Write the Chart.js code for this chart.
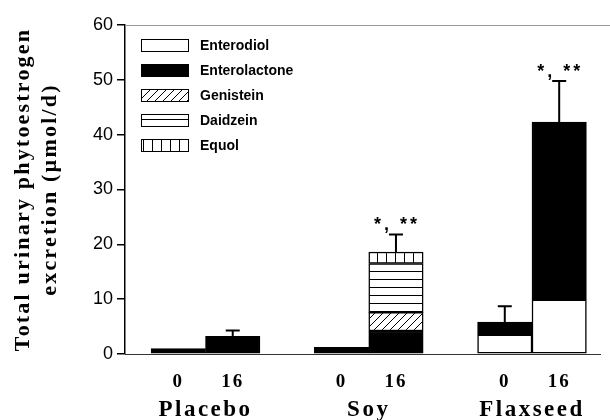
<!DOCTYPE html>
<html>
<head>
<meta charset="utf-8">
<script src="https://cdn.jsdelivr.net/npm/chart.js@4.4.1/dist/chart.umd.min.js"></script>
<style>
  html, body { margin: 0; padding: 0; background: #fff; }
  #wrap { width: 610px; height: 420px; }
</style>
</head>
<body>
<div id="wrap"><canvas id="myChart" width="610" height="420"></canvas></div>
<script>
const groups = ['Placebo', 'Soy', 'Flaxseed'];
const weeks = ['0', '16'];
// one entry per bar: placebo 0, placebo 16, soy 0, soy 16, flaxseed 0, flaxseed 16
const enterodiol    = [null, null, null, null, 3.5, 9.9];
const enterolactone = [1.0, 3.2, 1.2, 4.2, 2.3, 32.4];
const genistein     = [null, null, null, 3.4, null, null];
const daidzein      = [null, null, null, 8.9, null, null];
const equol         = [null, null, null, 2.1, null, null];
const errorTop      = [null, 4.3, null, 21.8, 8.7, 49.8];
const signif        = [null, null, null, '*, **', null, '*, **'];
const yTicks = [0, 10, 20, 30, 40, 50, 60];

// bars sit in slots, one empty slot between groups
const barX = i => Math.floor(i / 2) * 3 + (i % 2);

function makePattern(kind) {
  const c = document.createElement('canvas');
  const s = kind === 'vert' ? 9 : 8;
  c.width = s; c.height = s;
  const g = c.getContext('2d');
  g.fillStyle = '#fff';
  g.fillRect(0, 0, s, s);
  g.strokeStyle = '#000';
  g.lineWidth = 1;
  g.beginPath();
  if (kind === 'diag') {
    g.moveTo(0, s); g.lineTo(s, 0);
    g.moveTo(-1, 1); g.lineTo(1, -1);
    g.moveTo(s - 1, s + 1); g.lineTo(s + 1, s - 1);
  } else if (kind === 'horiz') {
    g.moveTo(0, s - 0.5); g.lineTo(s, s - 0.5);
  } else if (kind === 'vert') {
    g.moveTo(s - 0.5, 0); g.lineTo(s - 0.5, s);
  }
  g.stroke();
  return g.createPattern(c, 'repeat');
}

const series = [
  { label: 'Enterodiol', values: enterodiol, fill: '#fff' },
  { label: 'Enterolactone', values: enterolactone, fill: '#000' },
  { label: 'Genistein', values: genistein, fill: makePattern('diag') },
  { label: 'Daidzein', values: daidzein, fill: makePattern('horiz') },
  { label: 'Equol', values: equol, fill: makePattern('vert') },
];

// the scanned labels are wide, so add letter spacing to some of a scale's text
function spaceText(scale, gap, fns) {
  if (scale._spaced) return;
  scale._spaced = true;
  fns.forEach(fn => {
    const orig = scale[fn];
    scale[fn] = function (...args) {
      this.ctx.save();
      this.ctx.letterSpacing = gap;
      orig.apply(this, args);
      this.ctx.restore();
    };
  });
}

const extras = {
  id: 'extras',
  afterDatasetsDraw(chart) {
    const { ctx, chartArea, scales } = chart;
    const x = scales.x, y = scales.y;
    ctx.save();
    // faint frame line on top
    ctx.strokeStyle = '#999';
    ctx.lineWidth = 1;
    ctx.beginPath();
    ctx.moveTo(chartArea.left, chartArea.top + 0.5);
    ctx.lineTo(chartArea.right + 10, chartArea.top + 0.5);
    ctx.stroke();

    // error bars and significance marks
    errorTop.forEach((e, i) => {
      if (e == null) return;
      const total = series.reduce((a, s) => a + (s.values[i] || 0), 0);
      const px = x.getPixelForValue(barX(i));
      const yb = y.getPixelForValue(total);
      const ye = y.getPixelForValue(e);
      ctx.strokeStyle = '#000';
      ctx.lineWidth = 2;
      ctx.beginPath();
      ctx.moveTo(px, yb); ctx.lineTo(px, ye);
      ctx.moveTo(px - 7, ye); ctx.lineTo(px + 7, ye);
      ctx.stroke();
      if (signif[i]) {
        ctx.fillStyle = '#000';
        ctx.font = 'bold 18px "Liberation Sans", Arial, sans-serif';
        ctx.letterSpacing = '3px';
        ctx.textAlign = 'center';
        ctx.textBaseline = 'alphabetic';
        ctx.fillText(signif[i], px + 1, ye - 4);
        ctx.letterSpacing = '0px';
      }
    });

    // legend inside the plot, top left
    const lx = chartArea.left + 16, ly = chartArea.top + 14;
    series.forEach((s, i) => {
      const top = ly + i * 25;
      ctx.fillStyle = s.fill;
      ctx.fillRect(lx, top, 47, 12);
      ctx.strokeStyle = '#000';
      ctx.lineWidth = 1;
      ctx.strokeRect(lx + 0.5, top + 0.5, 47, 12);
      ctx.fillStyle = '#000';
      ctx.font = 'bold 14px "Liberation Sans", Arial, sans-serif';
      ctx.textAlign = 'left';
      ctx.textBaseline = 'middle';
      ctx.fillText(s.label, lx + 59, top + 7);
    });
    ctx.restore();
  }
};

const xMin = -0.98, xMax = 7.75;
const serif = '"Liberation Serif", "Times New Roman", serif';

new Chart(document.getElementById('myChart'), {
  type: 'bar',
  data: {
    datasets: series.map(s => ({
      label: s.label,
      data: s.values.map((v, i) => ({ x: barX(i), y: v })),
      backgroundColor: s.fill,
      borderColor: '#000',
      borderWidth: 1.5,
      borderSkipped: false,
      xAxisID: 'x',
      yAxisID: 'y',
    }))
  },
  options: {
    responsive: false,
    animation: false,
    layout: { padding: { top: 25, right: 10, left: 0, bottom: 0 } },
    datasets: { bar: { categoryPercentage: 1, barPercentage: 1 } },
    plugins: { legend: { display: false }, tooltip: { enabled: false } },
    scales: {
      x: {
        type: 'linear', min: xMin, max: xMax, stacked: true, offset: false,
        grid: { display: false },
        border: { color: '#333', width: 1 },
        afterBuildTicks: s => { s.ticks = [0, 1, 3, 4, 6, 7].map(v => ({ value: v })); },
        ticks: {
          callback: v => weeks[v % 3],
          font: { family: serif, size: 19, weight: 'bold' },
          color: '#000', padding: 9, autoSkip: false, maxRotation: 0
        },
        afterFit: s => { s.height = 34; spaceText(s, '2px', ['drawLabels']); }
      },
      groups: {
        type: 'linear', position: 'bottom', min: xMin, max: xMax, weight: 1, offset: false,
        grid: { display: false },
        border: { display: false },
        afterBuildTicks: s => { s.ticks = [0.5, 3.5, 6.5].map(v => ({ value: v })); },
        ticks: {
          callback: (v, i) => groups[i],
          font: { family: serif, size: 23, weight: 'bold' },
          color: '#000', padding: 0, autoSkip: false, maxRotation: 0
        },
        afterFit: s => { s.height = 32; spaceText(s, '2.5px', ['drawLabels']); }
      },
      y: {
        min: 0, max: 60, stacked: true,
        afterBuildTicks: s => { s.ticks = yTicks.map(v => ({ value: v })); },
        grid: { drawOnChartArea: false, tickLength: 8, color: '#000', lineWidth: 1.5 },
        border: { color: '#000', width: 1.5 },
        ticks: {
          font: { family: '"Liberation Sans", Arial, sans-serif', size: 18 },
          color: '#000', padding: 4
        },
        title: {
          display: true,
          text: ['Total urinary phytoestrogen', 'excretion (\u00b5mol/d)'],
          font: { family: serif, size: 22, weight: 'bold', lineHeight: 1.23 },
          color: '#000', padding: { top: 10, bottom: 0 }
        },
        afterFit: s => { s.width = 125; spaceText(s, '2.2px', ['drawTitle']); }
      }
    }
  },
  plugins: [extras]
});
</script>
</body>
</html>
